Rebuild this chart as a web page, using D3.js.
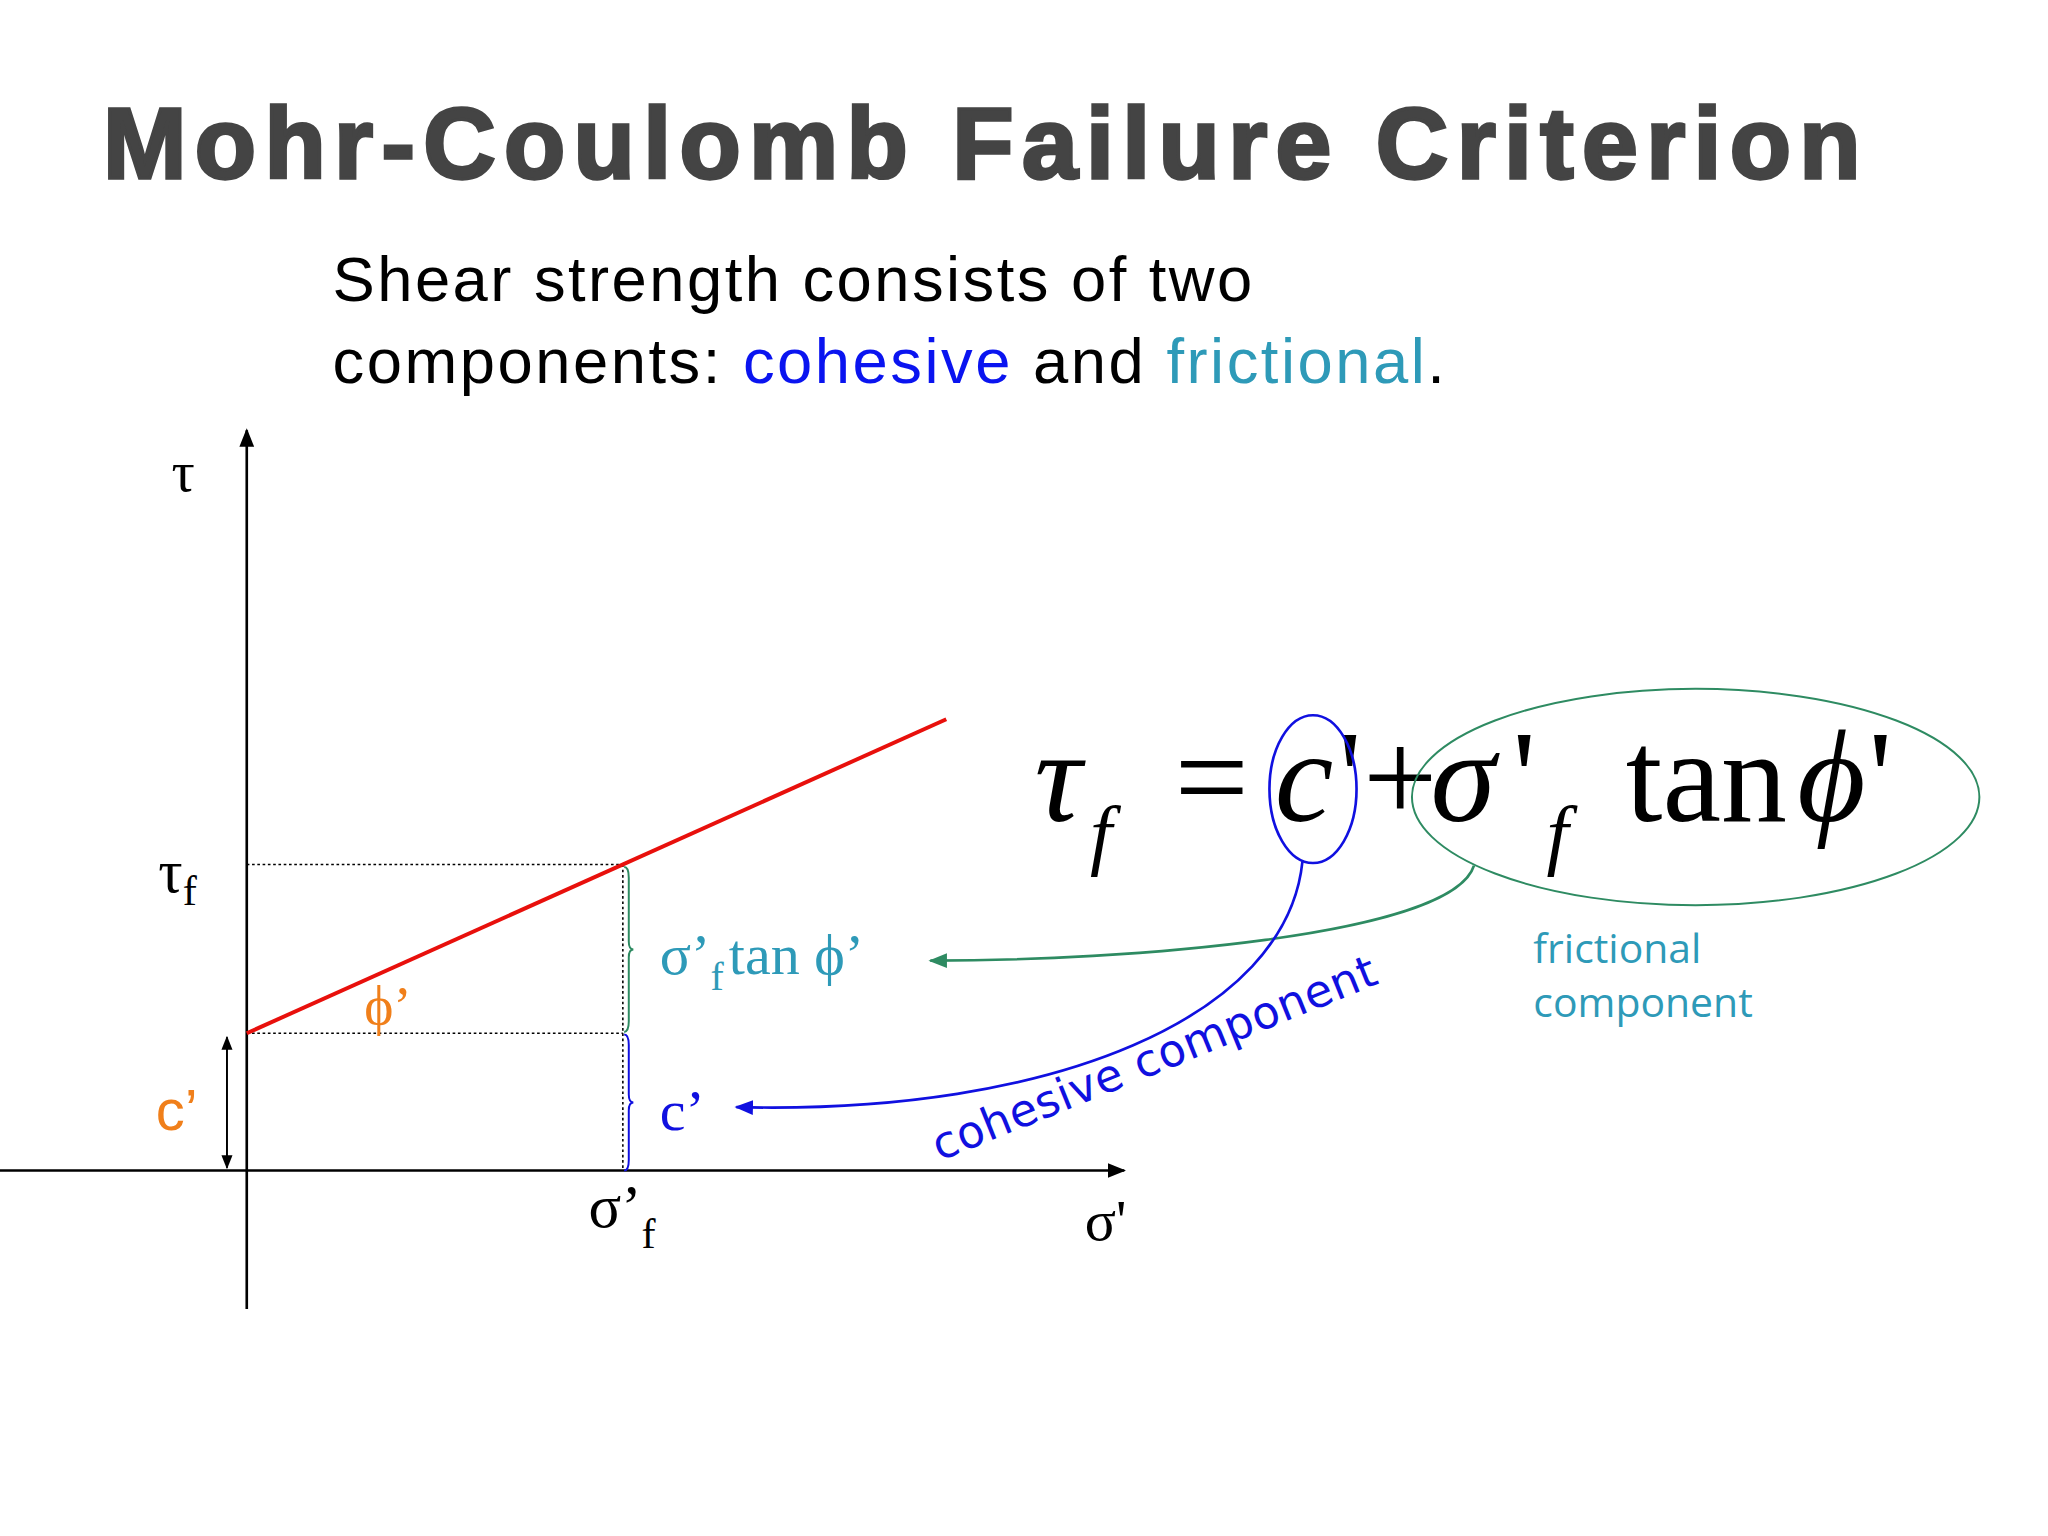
<!DOCTYPE html>
<html><head><meta charset="utf-8">
<script src="https://cdn.jsdelivr.net/npm/d3@7"></script>
<style>body{margin:0;background:#fff}</style>
</head><body>
<script>
// Data
const cohesion = [10];          // c'
const tanPhi = [1.23];          // tan φ'
const sigmaF = [10];            // σ'_f
const lineSigma = [0, 18.6];    // extent of failure envelope
const subtitleLines = ["Shear strength consists of two", "components: "];

const W=1552,H=1164;
const svg=d3.select("body").append("svg").attr("width",2048).attr("height",1536)
  .attr("viewBox",`0 0 ${W} ${H}`);
const x=d3.scaleLinear().domain([0,10]).range([187,472]);
const y=d3.scaleLinear().domain([0,10]).range([887,783]);
const tau=s=>cohesion[0]+s*tanPhi[0];
const serif="'Liberation Serif','DejaVu Serif',serif", sans="'Liberation Sans',Arial,sans-serif";
const defs=svg.append("defs");
function marker(id,col){defs.append("marker").attr("id",id).attr("viewBox","0 0 10 10").attr("refX",9).attr("refY",5)
 .attr("markerWidth",7).attr("markerHeight",7).attr("orient","auto-start-reverse")
 .append("path").attr("d","M0,1L10,5L0,9z").attr("fill",col);}
marker("ak","#000");marker("ag","#2e8b62");marker("ab","#1010e0");

// Title
svg.append("text").attr("x",78).attr("y",135).attr("font-family",sans).attr("font-weight",900)
 .attr("font-size",76).attr("fill","#444").attr("stroke","#444").attr("stroke-width",2.5)
 .attr("textLength",1332).attr("lengthAdjust","spacing").text("Mohr-Coulomb Failure Criterion");
svg.append("text").attr("x",252).attr("y",228).attr("font-family",sans).attr("font-size",48)
 .attr("textLength",697).attr("lengthAdjust","spacing").text(subtitleLines[0]);
const t2=svg.append("text").attr("x",252).attr("y",290).attr("font-family",sans).attr("font-size",48)
 .attr("textLength",843).attr("lengthAdjust","spacing");
t2.append("tspan").text(subtitleLines[1]);
t2.append("tspan").attr("fill","#0a14f0").text("cohesive");
t2.append("tspan").text(" and ");
t2.append("tspan").attr("fill","#2e9ab8").text("frictional");
t2.append("tspan").text(".");

// Axes
svg.append("line").attr("x1",187).attr("y1",992).attr("x2",187).attr("y2",326).attr("stroke","#000").attr("stroke-width",2).attr("marker-end","url(#ak)");
svg.append("line").attr("x1",0).attr("y1",y(0)).attr("x2",852).attr("y2",y(0)).attr("stroke","#000").attr("stroke-width",2).attr("marker-end","url(#ak)");

// dotted guides
const dot=(a,b,c,d)=>svg.append("line").attr("x1",a).attr("y1",b).attr("x2",c).attr("y2",d).attr("stroke","#000").attr("stroke-width",1.2).attr("stroke-dasharray","2,2");
dot(x(0),y(tau(sigmaF[0])),x(sigmaF[0]),y(tau(sigmaF[0])));
dot(x(0),y(cohesion[0]),x(sigmaF[0]),y(cohesion[0]));
dot(x(sigmaF[0]),y(tau(sigmaF[0])),x(sigmaF[0]),y(0));

// failure envelope
svg.append("path").datum(lineSigma).attr("d",d3.line().x(d=>x(d)).y(d=>y(tau(d))))
 .attr("stroke","#e8100c").attr("stroke-width",3).attr("fill","none");

// braces
function brace(xp,y1,y2,col){const m=(y1+y2)/2,w=7;
 svg.append("path").attr("d",`M${xp},${y1} Q${xp+w/2},${y1} ${xp+w/2},${y1+8} L${xp+w/2},${m-6} Q${xp+w/2},${m} ${xp+w},${m} Q${xp+w/2},${m} ${xp+w/2},${m+6} L${xp+w/2},${y2-8} Q${xp+w/2},${y2} ${xp},${y2}`)
 .attr("stroke",col).attr("fill","none").attr("stroke-width",1.5);}
brace(x(sigmaF[0])+1,y(tau(sigmaF[0]))+2,y(cohesion[0])-1,"#2e8b62");
brace(x(sigmaF[0])+1,y(cohesion[0])+1,y(0),"#1010e0");

// c' double arrow
svg.append("line").attr("x1",172).attr("y1",y(cohesion[0])+3).attr("x2",172).attr("y2",y(0)-2).attr("stroke","#000").attr("stroke-width",1.5)
 .attr("marker-start","url(#ak)").attr("marker-end","url(#ak)");

// labels
const txt=(xx,yy,s,size,fam,col)=>svg.append("text").attr("x",xx).attr("y",yy).attr("font-size",size).attr("font-family",fam).attr("fill",col||"#000").text(s);
txt(130,372,"τ",44,serif);
const tf=txt(120,676,"τ",46,serif); tf.append("tspan").attr("font-size",32).attr("dy",10).text("f");
const sf=txt(446,930,"σ’",46,serif); sf.append("tspan").attr("font-size",32).attr("dy",16).text("f");
txt(822,940,"σ'",44,serif);
txt(118,856,"c’",44,sans,"#f07f1a");
txt(276,776,"ϕ’",42,serif,"#f07f1a");
const st=txt(500,738,"σ’",44,serif,"#2e9ab8"); st.append("tspan").attr("font-size",30).attr("dy",12).text("f");
st.append("tspan").attr("dy",-12).attr("dx",4).text("tan ϕ’");
txt(500,856,"c’",44,serif,"#1010e0");

// equation
const eq=svg.append("g").attr("font-family",serif).attr("font-size",100);
eq.append("text").attr("x",784).attr("y",622).attr("font-style","italic").text("τ");
eq.append("text").attr("x",826).attr("y",652).attr("font-size",60).attr("font-style","italic").text("f");
eq.append("text").attr("x",890).attr("y",622).text("=");
eq.append("text").attr("x",966).attr("y",622).attr("font-style","italic").text("c");
eq.append("text").attr("x",1014).attr("y",622).text("'");
eq.append("text").attr("x",1033).attr("y",622).text("+");
eq.append("text").attr("x",1084).attr("y",622).attr("font-style","italic").text("σ");
eq.append("text").attr("x",1146).attr("y",622).text("'");
eq.append("text").attr("x",1172).attr("y",652).attr("font-size",60).attr("font-style","italic").text("f");
eq.append("text").attr("x",1232).attr("y",622).text("tan");
eq.append("text").attr("x",1362).attr("y",622).attr("font-style","italic").text("ϕ");
eq.append("text").attr("x",1416).attr("y",622).text("'");

svg.append("ellipse").attr("cx",995).attr("cy",598).attr("rx",33).attr("ry",56).attr("fill","none").attr("stroke","#1010e0").attr("stroke-width",2);
svg.append("ellipse").attr("cx",1285).attr("cy",604).attr("rx",215).attr("ry",82).attr("fill","none").attr("stroke","#2e8b62").attr("stroke-width",1.5);

svg.append("path").attr("d","M1117,656 C1100,710 850,728 705,728").attr("fill","none").attr("stroke","#2e8b62").attr("stroke-width",2).attr("marker-end","url(#ag)");
svg.append("path").attr("d","M987,653 C975,770 800,845 558,839").attr("fill","none").attr("stroke","#1010e0").attr("stroke-width",2).attr("marker-end","url(#ab)");

svg.append("text").attr("transform","translate(712,880) rotate(-22)").attr("font-family","'DejaVu Sans',Verdana,sans-serif")
 .attr("font-size",34).attr("fill","#1010e0").attr("textLength",360).text("cohesive component");
txt(1162,730,"frictional",31,"'Open Sans',sans-serif","#2e9ab8");
txt(1162,771,"component",31,"'Open Sans',sans-serif","#2e9ab8");
</script>
</body></html>
